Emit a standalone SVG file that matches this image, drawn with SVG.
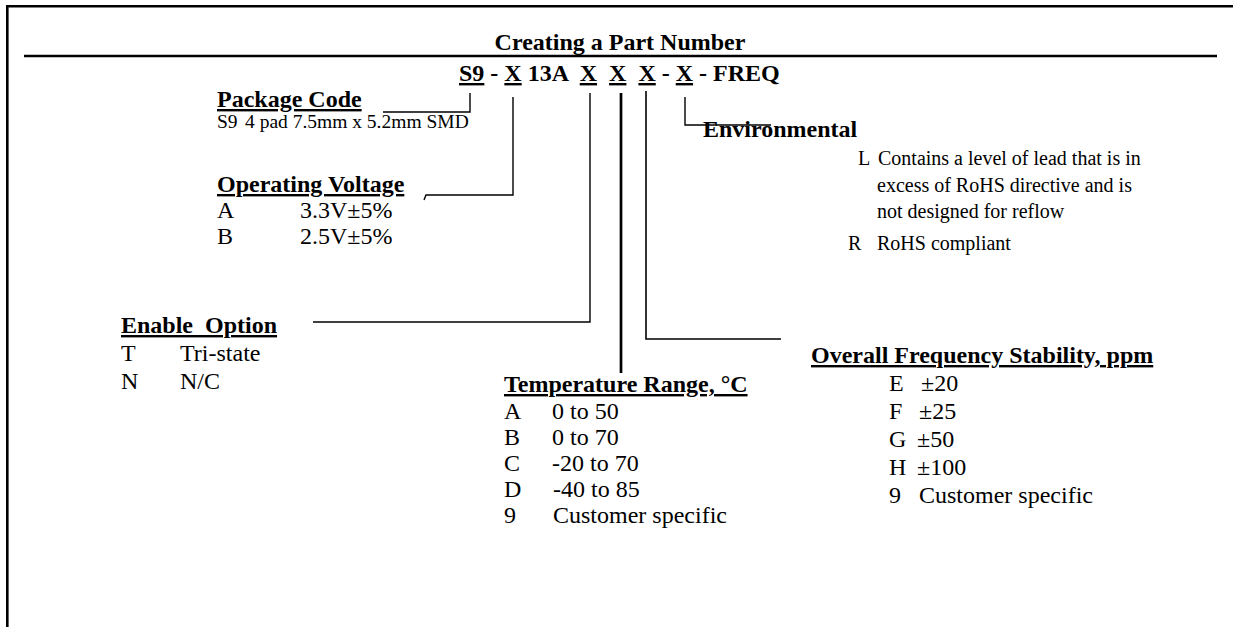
<svg xmlns="http://www.w3.org/2000/svg" width="1233" height="627" viewBox="0 0 1233 627">
<style>
text{font-family:"Liberation Serif","Times New Roman",serif;fill:#000}
.h{font-size:24px;font-weight:bold}
.u{text-decoration:underline}
.b{font-size:24px}
.s{font-size:20px}
.frame{stroke:#000;stroke-width:2.6;fill:none}
.c{stroke:#000;stroke-width:1.4;fill:none}
</style>
<rect width="1233" height="627" fill="#fff"/>
<g id="frame">
<path class="frame" d="M7.3,627 V6.3 H1233"/>
<path class="frame" d="M24,56 H1217"/>
</g>
<g id="title">
<text class="h" x="620" y="50" text-anchor="middle">Creating a Part Number</text>
<text class="h" x="459" y="81" xml:space="preserve"><tspan class="u">S9</tspan> - <tspan class="u">X</tspan> 13A  <tspan class="u">X</tspan>  <tspan class="u">X</tspan>  <tspan class="u">X</tspan> - <tspan class="u">X</tspan> - FREQ</text>
</g>
<g id="connectors">
<path class="c" d="M470,93 V112 H383"/>
<path class="c" d="M513,97 V195 H426 L424,200"/>
<path class="c" d="M590,93 V322 H313"/>
<path class="c" style="stroke-width:2.7" d="M621,93 V373"/>
<path class="c" style="stroke-width:1.6" d="M646,91 V339 H781"/>
<path class="c" d="M685,97 V125 H771"/>
</g>
<g id="package">
<text class="h u" x="217" y="107">Package Code</text>
<text x="217" y="128"><tspan style="font-size:19.5px">S9</tspan><tspan style="font-size:19.5px" x="245">4 pad 7.5mm x 5.2mm SMD</tspan></text>
</g>
<g id="voltage">
<text class="h u" x="217" y="192">Operating Voltage</text>
<text class="b" x="217" y="218">A</text><text class="b" x="300" y="218">3.3V±5%</text>
<text class="b" x="217" y="244">B</text><text class="b" x="300" y="244">2.5V±5%</text>
</g>
<g id="enable">
<text class="h u" x="121" y="333" xml:space="preserve">Enable  Option</text>
<text class="b" x="121" y="361">T</text><text class="b" x="180" y="361">Tri-state</text>
<text class="b" x="121" y="389">N</text><text class="b" x="180" y="389">N/C</text>
</g>
<g id="temperature">
<text class="h u" x="504" y="392">Temperature Range, °C</text>
<text class="b" x="504" y="419">A</text><text class="b" x="552" y="419">0 to 50</text>
<text class="b" x="504" y="445">B</text><text class="b" x="552" y="445">0 to 70</text>
<text class="b" x="504" y="471">C</text><text class="b" x="552" y="471">-20 to 70</text>
<text class="b" x="504" y="497">D</text><text class="b" x="553" y="497">-40 to 85</text>
<text class="b" x="504" y="523">9</text><text class="b" x="553" y="523">Customer specific</text>
</g>
<g id="frequency">
<text class="h u" x="811" y="363">Overall Frequency Stability, ppm</text>
<text class="b" x="889" y="391">E</text><text class="b" x="921" y="391">±20</text>
<text class="b" x="889" y="419">F</text><text class="b" x="919" y="419">±25</text>
<text class="b" x="889" y="447">G</text><text class="b" x="917" y="447">±50</text>
<text class="b" x="889" y="475">H</text><text class="b" x="917" y="475">±100</text>
<text class="b" x="889" y="503">9</text><text class="b" x="919" y="503">Customer specific</text>
</g>
<g id="environmental">
<text class="h" x="703" y="137">Environmental</text>
<text class="s" x="858" y="165">L <tspan x="878">Contains a level of lead that is in</tspan></text>
<text class="s" x="877" y="192">excess of RoHS directive and is</text>
<text class="s" x="877" y="218">not designed for reflow</text>
<text class="s" x="848" y="250">R <tspan x="877">RoHS compliant</tspan></text>
</g>
</svg>
